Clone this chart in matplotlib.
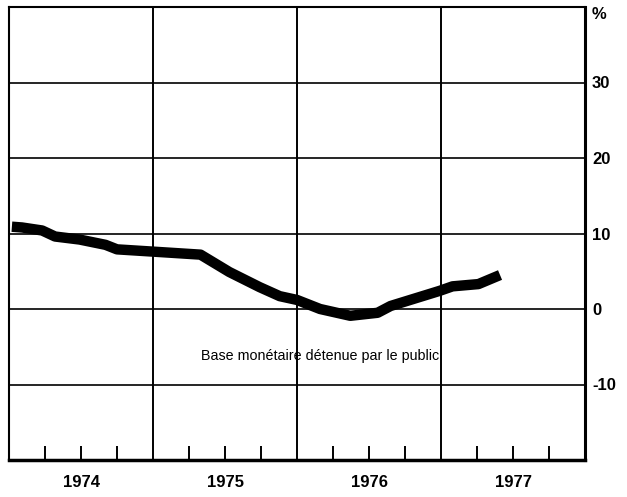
import numpy as np
import matplotlib
matplotlib.use('Agg')
from matplotlib import pyplot as plt

plt.rcParams['font.family'] = ['Liberation Sans', 'DejaVu Sans']

# time in years, values in %
t = [1974.02, 1974.09, 1974.23, 1974.32, 1974.49, 1974.67, 1974.75, 1975.0,
     1975.33, 1975.53, 1975.74, 1975.88, 1976.0, 1976.16, 1976.37, 1976.56,
     1976.65, 1976.99, 1977.08, 1977.26, 1977.41]
base = [10.9, 10.8, 10.4, 9.6, 9.2, 8.5, 7.9, 7.6,
        7.2, 4.9, 2.9, 1.7, 1.2, 0.0, -0.9, -0.5,
        0.4, 2.4, 3.0, 3.3, 4.5]
years = [1974, 1975, 1976, 1977]
grid_y = [30, 20, 10, 0, -10]
ylabels = ['%', '30', '20', '10', '0', '-10']

fig = plt.figure(figsize=(6.27, 4.97), dpi=100)
ax = fig.add_axes([9/627, 37/497, (585-9)/627, (460-7)/497])
ax.set_xlim(1974, 1978)
ax.set_ylim(-20, 40)

for y in grid_y:
    ax.axhline(y, color='black', lw=1.2, zorder=1)
for yr in years[1:]:
    ax.axvline(yr, color='black', lw=1.4, zorder=1)

ax.plot(t, base, color='black', lw=7.5, solid_capstyle='butt', solid_joinstyle='round', zorder=3)

ax.text(1975.33, -6.2, 'Base monétaire détenue par le public', fontsize=10.3, va='center', ha='left')

# quarter ticks along the bottom
ax.set_xticks([yr + q / 4 for yr in years for q in (1, 2, 3)])
ax.set_xticklabels([])
ax.tick_params(axis='x', direction='in', length=10, width=1.4)

# year labels centred in each year
sec = ax.secondary_xaxis('bottom')
sec.set_xticks([yr + 0.5 for yr in years])
sec.set_xticklabels([str(y) for y in years], fontsize=12, fontweight='bold')
sec.tick_params(length=0, pad=11)
sec.spines['bottom'].set_visible(False)

ax.yaxis.tick_right()
ax.set_yticks([40] + grid_y)
ax.set_yticklabels(ylabels, fontsize=12, fontweight='bold')
ax.tick_params(axis='y', length=0, pad=5)
ax.get_yticklabels()[0].set_va('top')

for s in ax.spines.values():
    s.set_linewidth(1.5)
ax.spines['bottom'].set_linewidth(2.5)
ax.spines['right'].set_linewidth(2.2)

plt.savefig('out.png', dpi=100)
